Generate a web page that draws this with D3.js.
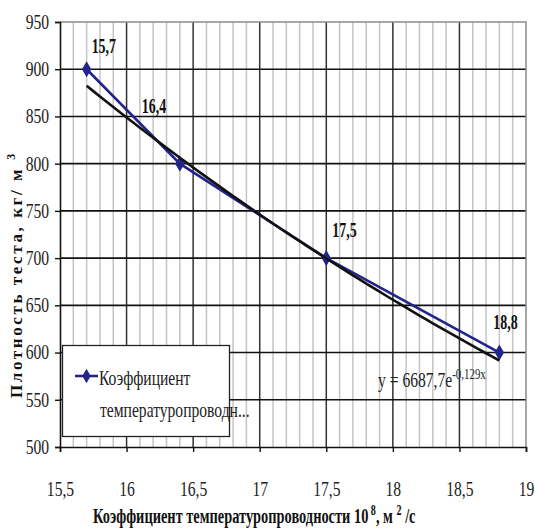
<!DOCTYPE html>
<html>
<head>
<meta charset="utf-8">
<script src="https://cdn.jsdelivr.net/npm/d3@7"></script>
<style>
  body { margin: 0; background: #fff; }
  svg { display: block; }
</style>
</head>
<body>
<div id="chart"></div>
<script>
// values
var xVals = [15.7, 16.4, 17.5, 18.8];
var yVals = [900, 800, 700, 600];
var pointLabels = ["15,7", "16,4", "17,5", "18,8"];
var xTicks = [15.5, 16, 16.5, 17, 17.5, 18, 18.5, 19];
var yTicks = [500, 550, 600, 650, 700, 750, 800, 850, 900, 950];
var seriesName = ["Коэффициент", "температуропроводн..."];
// trend line y = a * e^(b x), as printed on the chart
var trendA = 6687.7, trendB = -0.129;

// label nudges (px) so labels sit where they do in the picture
var labelNudge = [[5, -16], [-38, -51], [6, -21], [-6, -24]];

var W = 535, H = 528;
var margin = {top: 22, right: 9, bottom: 81, left: 60},
    width = W - margin.left - margin.right,
    height = H - margin.top - margin.bottom;
var sx = 0.78; // text in the picture is horizontally squeezed
var navy = "#23238c";
var serif = "'Liberation Serif', 'Times New Roman', serif";

var svg = d3.select("#chart").append("svg")
    .attr("width", W)
    .attr("height", H)
    .style("font-family", serif);

var x = d3.scaleLinear().domain([15.5, 19]).range([margin.left, margin.left + width]);
var y = d3.scaleLinear().domain([500, 950]).range([margin.top + height, margin.top]);

var fmt = function (d) { return String(d).replace(".", ","); };

// minor vertical grid
svg.append("g")
    .selectAll("line")
    .data(x.ticks(35).filter(function (d) { return Math.abs(d * 2 - Math.round(d * 2)) > 1e-6; }))
    .enter().append("line")
    .attr("x1", function (d) { return x(d); })
    .attr("x2", function (d) { return x(d); })
    .attr("y1", y(950))
    .attr("y2", y(500))
    .attr("stroke", "#c4c4c4")
    .attr("stroke-width", 1.5);

// major vertical grid
svg.append("g")
    .selectAll("line")
    .data(xTicks.slice(1, -1))
    .enter().append("line")
    .attr("x1", function (d) { return x(d); })
    .attr("x2", function (d) { return x(d); })
    .attr("y1", y(950))
    .attr("y2", y(500))
    .attr("stroke", "#333")
    .attr("stroke-width", 1.5);

// major horizontal grid
svg.append("g")
    .selectAll("line")
    .data(yTicks.slice(1, -1))
    .enter().append("line")
    .attr("x1", x(15.5))
    .attr("x2", x(19))
    .attr("y1", function (d) { return y(d); })
    .attr("y2", function (d) { return y(d); })
    .attr("stroke", "#111")
    .attr("stroke-width", 1.6);

// top / right border
svg.append("path")
    .attr("d", "M" + x(15.5) + "," + y(950) + "H" + x(19) + "V" + y(500))
    .attr("fill", "none")
    .attr("stroke", "#8a8a8a")
    .attr("stroke-width", 1.5);

// axes
var yAxis = svg.append("g")
    .attr("transform", "translate(" + margin.left + ",0)")
    .call(d3.axisLeft(y).tickValues(yTicks).tickSize(5).tickPadding(9).tickFormat(fmt));
var xAxis = svg.append("g")
    .attr("transform", "translate(0," + (margin.top + height) + ")")
    .call(d3.axisBottom(x).tickValues(xTicks).tickSize(5).tickPadding(30).tickFormat(fmt));

[yAxis, xAxis].forEach(function (a) {
    a.attr("font-family", serif).attr("font-size", 20);
    a.select(".domain").attr("stroke", "#111").attr("stroke-width", 1.6);
    a.selectAll(".tick line").attr("stroke", "#111").attr("stroke-width", 1.4);
    a.selectAll(".tick text")
        .attr("fill", "#222")
        .attr("transform", "scale(" + sx + ",1)");
});

// series line
var pts = xVals.map(function (d, i) { return [d, yVals[i]]; });
var line = d3.line()
    .x(function (d) { return x(d[0]); })
    .y(function (d) { return y(d[1]); });

svg.append("path")
    .datum(pts)
    .attr("d", line)
    .attr("fill", "none")
    .attr("stroke", navy)
    .attr("stroke-width", 2.6);

svg.append("g")
    .selectAll("path")
    .data(pts)
    .enter().append("path")
    .attr("transform", function (d) { return "translate(" + x(d[0]) + "," + y(d[1]) + ")"; })
    .attr("d", d3.symbol(d3.symbolDiamond, 75))
    .attr("fill", navy);

// exponential trend line from the printed equation
var trendX = d3.range(xVals[0], xVals[xVals.length - 1] + 1e-9, 0.05);
trendX.push(xVals[xVals.length - 1]);
svg.append("path")
    .datum(trendX.map(function (t) { return [t, trendA * Math.exp(trendB * t)]; }))
    .attr("d", line)
    .attr("fill", "none")
    .attr("stroke", "#111")
    .attr("stroke-width", 2.6);

// point labels
svg.append("g")
    .selectAll("text")
    .data(pointLabels)
    .enter().append("text")
    .attr("transform", function (d, i) {
        return "translate(" + (x(xVals[i]) + labelNudge[i][0]) + "," + (y(yVals[i]) + labelNudge[i][1]) + ") scale(0.7,1)";
    })
    .attr("font-size", 20)
    .attr("font-weight", "bold")
    .attr("fill", "#111")
    .text(function (d) { return d; });

// legend
var lg = svg.append("g");
lg.append("rect")
    .attr("x", 62.5).attr("y", 345.5)
    .attr("width", 167).attr("height", 91)
    .attr("fill", "#fff")
    .attr("stroke", "#222")
    .attr("stroke-width", 1.3);
lg.append("line")
    .attr("x1", 75).attr("x2", 98)
    .attr("y1", 376).attr("y2", 376)
    .attr("stroke", navy).attr("stroke-width", 2.6);
lg.append("path")
    .attr("transform", "translate(86.5,376)")
    .attr("d", d3.symbol(d3.symbolDiamond, 60))
    .attr("fill", navy);
lg.selectAll("text")
    .data(seriesName)
    .enter().append("text")
    .attr("transform", function (d, i) { return "translate(" + (i ? 100 : 99) + "," + (385 + i * 32) + ") scale(" + sx + ",1)"; })
    .attr("font-size", 20)
    .attr("fill", "#222")
    .text(function (d) { return d; });

// equation
var eq = svg.append("text")
    .attr("transform", "translate(378,387) scale(" + sx + ",1)")
    .attr("font-size", 20)
    .attr("fill", "#222");
eq.append("tspan").text("y = " + fmt(trendA) + "e");
eq.append("tspan").attr("font-size", 14).attr("dy", -8).text(fmt(trendB) + "x");

// x axis title
var xt = svg.append("text")
    .attr("transform", "translate(93,523) scale(0.72,1)")
    .attr("font-size", 20)
    .attr("font-weight", "bold")
    .attr("fill", "#111");
xt.append("tspan").text("Коэффициент температуропроводности 10");
xt.append("tspan").attr("font-size", 14).attr("dy", -8).text(" 8");
xt.append("tspan").attr("dy", 8).text(", м ");
xt.append("tspan").attr("font-size", 14).attr("dy", -8).text("2");
xt.append("tspan").attr("dy", 8).text(" /с");

// y axis title
var yt = svg.append("text")
    .attr("transform", "translate(22,398) rotate(-90)")
    .attr("font-size", 17)
    .attr("font-weight", "bold")
    .attr("letter-spacing", 2.6)
    .attr("fill", "#111");
yt.append("tspan").text("Плотность теста, кг/ м ");
yt.append("tspan").attr("font-size", 12).attr("dy", -7).text("3");
</script>
</body>
</html>
